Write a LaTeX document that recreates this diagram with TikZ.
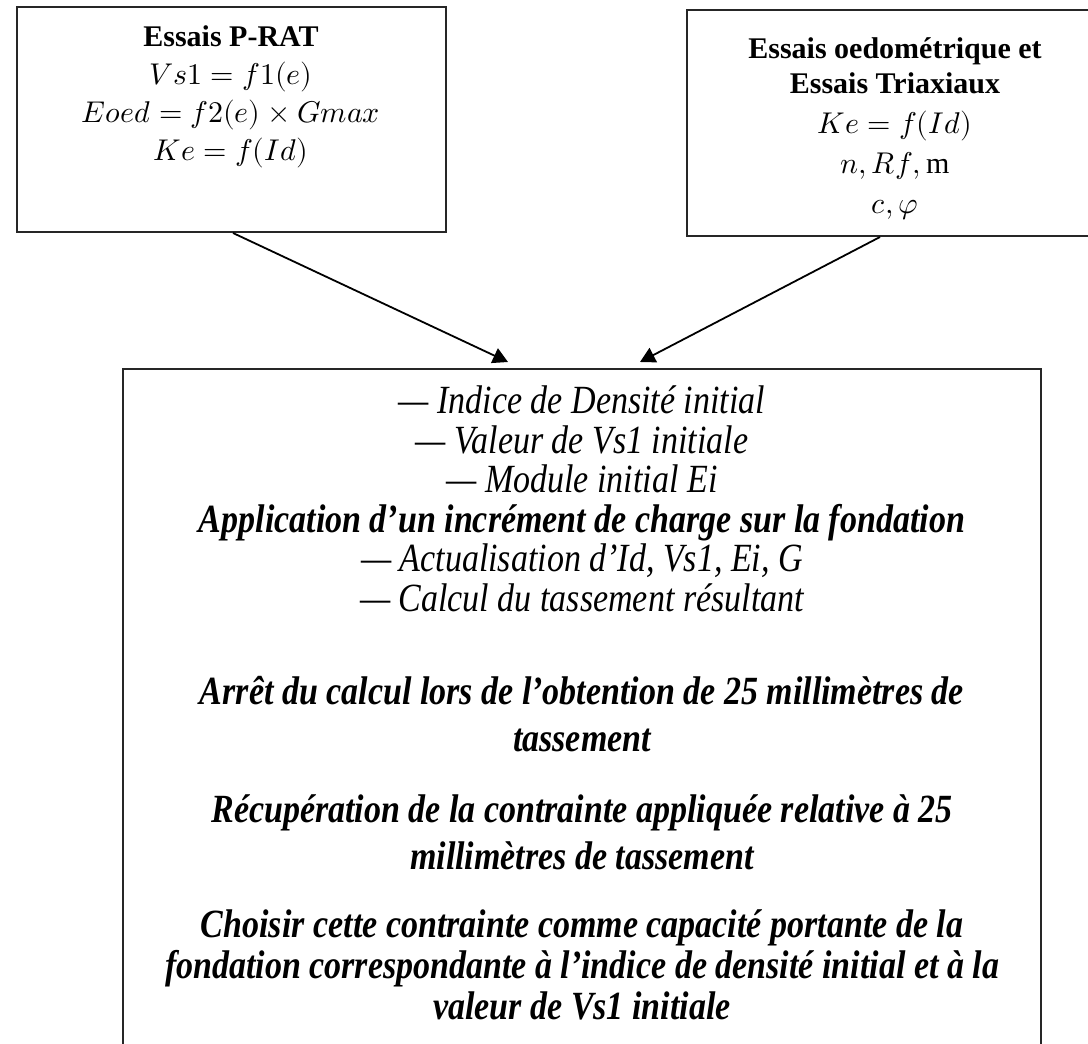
\documentclass[tikz,border=0pt]{standalone}
\usepackage{fontspec}
\usepackage{unicode-math}
\setmainfont{Liberation Serif}
\newfontfamily\etroite[FakeStretch=0.85]{Liberation Serif}
\usetikzlibrary{arrows.meta}
\usetikzlibrary{positioning}

\begin{document}
\begin{tikzpicture}[
    x=1pt, y=-1pt,
    essai/.style={
      draw=black!85,
      line width=2pt,
      fill=white,
      rectangle,
      inner sep=0pt
    },
    titre/.style={
      font=\fontsize{30}{38}\selectfont,
      align=center,
      inner sep=0pt
    },
    etape/.style={
      font=\etroite\fontsize{40}{39.5}\selectfont\itshape,
      align=center,
      inner sep=0pt
    },
    fleche/.style={
      line width=1.8pt,
      -{Triangle[length=15pt, width=16pt]}
    }
  ]
  \useasboundingbox (0,0) rectangle (1088,1044);

  % les deux sources d'essais
  \node[essai, minimum width=429pt, minimum height=225pt] (gauche) at (231.5,119.5) {};
  \node[titre, anchor=north] (gaucheTxt) at (231,25) {\textbf{Essais P-RAT}\\ $Vs1 = f1(e)$\\ $Eoed = f2(e) \times Gmax$\\ $Ke = f(Id)$};

  \node[essai, minimum width=416pt, minimum height=226pt] (droite) at (895,123) {};
  \node[titre, anchor=north, font=\fontsize{30}{35}\selectfont] (droiteTxt) at (895,37) {\textbf{Essais oedométrique et}\\ \textbf{Essais Triaxiaux}\\[5pt] $Ke = f(Id)$\\[5pt] $n, Rf,\mathrm{m}$\\[5pt] $c, \varphi$};

  % le calcul
  \node[essai, minimum width=918pt, minimum height=740pt, anchor=north] (bilan) at (582,368) {};
  \node[etape, anchor=north] (init) at (582,386) {— Indice de Densité initial\\ — Valeur de Vs1 initiale\\ — Module initial Ei\\ \textbf{Application d’un incrément de charge sur la fondation}\\ — Actualisation d’Id, Vs1, Ei, G\\ — Calcul du tassement résultant};
  \node[etape, anchor=north, font=\etroite\fontsize{40}{47}\selectfont\itshape\bfseries] (arret) at (582,676) {Arrêt du calcul lors de l’obtention de 25 millimètres de\\ tassement};
  \node[etape, anchor=north, font=\etroite\fontsize{40}{47}\selectfont\itshape\bfseries] (recup) at (582,794) {Récupération de la contrainte appliquée relative à 25\\ millimètres de tassement};
  \node[etape, anchor=north, font=\etroite\fontsize{40}{41}\selectfont\itshape\bfseries] (choix) at (582,909) {Choisir cette contrainte comme capacité portante de la\\ fondation correspondante à l’indice de densité initial et à la\\ valeur de Vs1 initiale};

  \coordinate (cibleG) at (508,362);
  \coordinate (cibleD) at (640,362);
  \draw[fleche] ([xshift=1.5pt]gauche.south) -- (cibleG);
  \draw[fleche] ([xshift=-15pt]droite.south) -- (cibleD);
\end{tikzpicture}
\end{document}
